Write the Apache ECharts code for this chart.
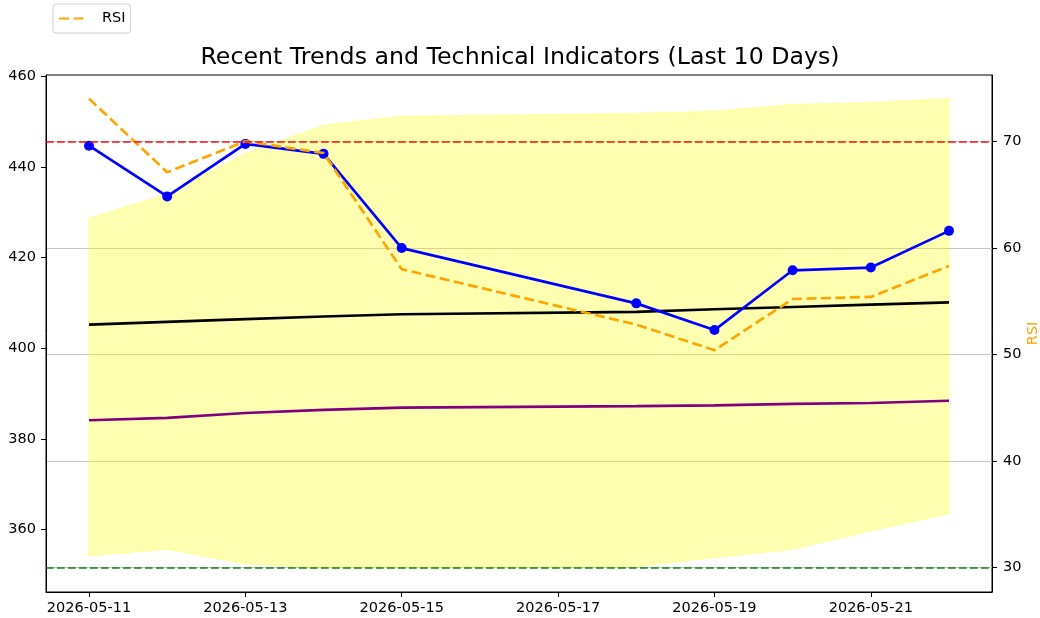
<!DOCTYPE html>
<html><head><meta charset="utf-8">
<script src="https://cdn.jsdelivr.net/npm/echarts@6/dist/echarts.min.js"></script>
<style>html,body{margin:0;padding:0;background:#fff}#c{width:1040px;height:618px}</style>
</head><body><div id="c"></div>
<script>
const dates = ['2026-05-11','2026-05-12','2026-05-13','2026-05-14','2026-05-15','2026-05-18','2026-05-19','2026-05-20','2026-05-21','2026-05-22'];
const closePrice = [444.7, 433.5, 445.1, 442.9, 422.1, 409.9, 404.0, 417.2, 417.8, 425.9];
const smaLine = [405.2, 405.8, 406.4, 407.0, 407.5, 408.0, 408.6, 409.1, 409.6, 410.1];
const purpleLine = [384.1, 384.6, 385.7, 386.4, 386.9, 387.2, 387.4, 387.7, 387.9, 388.4];
const upperBand = [428.7, 434.0, 443.0, 449.2, 451.2, 451.8, 452.3, 453.8, 454.2, 455.1];
const lowerBand = [354.2, 355.6, 352.4, 351.5, 351.5, 351.8, 353.8, 355.6, 359.7, 363.5];
const rsi = [74.0, 67.1, 70.0, 68.9, 58.0, 52.8, 50.4, 55.2, 55.4, 58.3];
const xTickDates = ['2026-05-11','2026-05-13','2026-05-15','2026-05-17','2026-05-19','2026-05-21'];
const leftTicks = [360, 380, 400, 420, 440, 460];
const rightTicks = [30, 40, 50, 60, 70];
const overbought = 70, oversold = 30;

const DAY = 86400000;
const base = Date.UTC(2026, 4, 11);
function toDay(s) { const p = s.split('-'); return (Date.UTC(+p[0], +p[1] - 1, +p[2]) - base) / DAY; }
function fromDay(v) { return new Date(base + Math.round(v) * DAY).toISOString().slice(0, 10); }
const xs = dates.map(toDay);
const pair = arr => arr.map((v, i) => [xs[i], v]);
const FONT = 'DejaVu Sans';

const chart = echarts.init(document.getElementById('c'), null, {renderer: 'canvas'});
chart.setOption({
  animation: false,
  backgroundColor: '#fff',
  title: {
    text: 'Recent Trends and Technical Indicators (Last 10 Days)',
    left: 'center', top: 46, padding: 0,
    textStyle: {fontSize: 23.7, fontWeight: 'normal', color: '#000', fontFamily: FONT}
  },
  legend: {
    data: ['RSI'], left: 53, top: 4, itemWidth: 28, itemHeight: 14,
    padding: [7, 5, 7, 5], borderColor: '#d0d0d0', borderWidth: 1, borderRadius: 3,
    backgroundColor: 'rgba(255,255,255,0.8)',
    itemStyle: {opacity: 0},
    textStyle: {fontSize: 14.5, color: '#000', fontFamily: FONT, padding: [0, 0, 0, 10]}
  },
  grid: {left: 46, right: 48, top: 75, bottom: 26, show: true, borderColor: '#000', borderWidth: 1,
         backgroundColor: 'transparent', containLabel: false, outerBoundsMode: 'none'},
  xAxis: {
    type: 'value', min: -0.55, max: 11.55,
    axisLine: {show: true, onZero: false, lineStyle: {color: '#000', width: 1}},
    axisTick: {show: true, length: 5, lineStyle: {color: '#000'}, customValues: xTickDates.map(toDay)},
    axisLabel: {customValues: xTickDates.map(toDay), formatter: v => fromDay(v), color: '#000', fontSize: 14.5, margin: 9, fontFamily: FONT},
    splitLine: {show: false}
  },
  yAxis: [{
    type: 'value', min: 346.18, max: 460.31, position: 'left',
    axisLine: {show: true, onZero: false, lineStyle: {color: '#000', width: 1}},
    axisTick: {show: true, length: 5, lineStyle: {color: '#000'}, customValues: leftTicks},
    axisLabel: {customValues: leftTicks, color: '#000', fontSize: 14.5, margin: 10, fontFamily: FONT},
    splitLine: {show: false}
  }, {
    type: 'value', min: 27.71, max: 76.22, position: 'right',
    name: 'RSI', nameLocation: 'middle', nameRotate: 90, nameGap: 34, nameMoveOverlap: false,
    nameTextStyle: {color: '#ffa500', fontSize: 14.5, fontFamily: FONT},
    axisLine: {show: true, onZero: false, lineStyle: {color: '#000', width: 1}},
    axisTick: {show: true, length: 5, lineStyle: {color: '#000'}, customValues: rightTicks},
    axisLabel: {customValues: rightTicks, color: '#000', fontSize: 14.5, margin: 11, fontFamily: FONT},
    splitLine: {show: true, lineStyle: {color: '#c4c4c4', width: 1}}
  }],
  series: [{
    type: 'custom', name: 'Band', xAxisIndex: 0, yAxisIndex: 0, z: 1, silent: true,
    data: xs.map((x, i) => [x, lowerBand[i], upperBand[i]]),
    encode: {x: 0, y: [1, 2]},
    renderItem: function (params, api) {
      if (params.dataIndex !== 0) return null;
      const pts = [];
      for (let i = 0; i < xs.length; i++) pts.push(api.coord([xs[i], upperBand[i]]));
      for (let i = xs.length - 1; i >= 0; i--) pts.push(api.coord([xs[i], lowerBand[i]]));
      return {type: 'polygon', shape: {points: pts}, style: {fill: 'rgba(255,255,0,0.3)', stroke: 'rgba(255,255,0,0.3)', lineWidth: 1}};
    }
  }, {
    type: 'line', name: 'SMA', data: pair(smaLine), symbol: 'none', z: 2,
    lineStyle: {color: '#000', width: 2.7}
  }, {
    type: 'line', name: 'Purple', data: pair(purpleLine), symbol: 'none', z: 2,
    lineStyle: {color: '#800080', width: 2.7}
  }, {
    type: 'line', name: 'Close', data: pair(closePrice), symbol: 'circle', symbolSize: 10, z: 3,
    itemStyle: {color: '#0000ff'}, lineStyle: {color: '#0000ff', width: 2.7}
  }, {
    type: 'line', name: 'RSI', yAxisIndex: 1, data: pair(rsi), symbol: 'none', z: 4,
    itemStyle: {color: '#ffa500'},
    lineStyle: {color: '#ffa500', width: 2.7, type: [10, 4.5]},
    markLine: {
      silent: true, symbol: 'none', label: {show: false},
      data: [
        {yAxis: overbought, lineStyle: {color: 'rgba(255,0,0,0.7)', type: [7.7, 3.3], width: 2}},
        {yAxis: oversold, lineStyle: {color: 'rgba(0,128,0,0.7)', type: [7.7, 3.3], width: 2}}
      ]
    }
  }]
});
</script></body></html>
